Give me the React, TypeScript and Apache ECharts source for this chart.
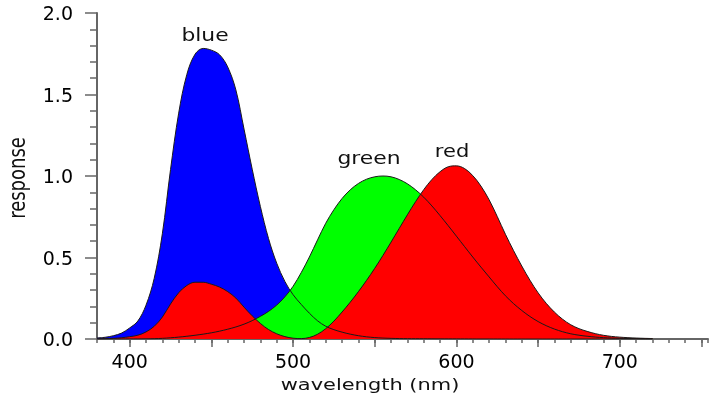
import React, { useEffect, useRef } from "react";
import * as echarts from "echarts";

const wavelengths = [
  380, 385, 390, 395, 400, 405, 410, 415, 420, 425, 430, 435, 440, 445, 450, 455, 460, 465, 470, 475,
  480, 485, 490, 495, 500, 505, 510, 515, 520, 525, 530, 535, 540, 545, 550, 555, 560, 565, 570, 575,
  580, 585, 590, 595, 600, 605, 610, 615, 620, 625, 630, 635, 640, 645, 650, 655, 660, 665, 670, 675,
  680, 685, 690, 695, 700, 705, 710, 715, 720,
];

const blueResponse = [
  0.0065, 0.0106, 0.0201, 0.0362, 0.0679, 0.1102, 0.2074, 0.3713, 0.6456, 1.0391, 1.3856, 1.623, 1.7471, 1.7826, 1.7721, 1.7441, 1.6692, 1.5281, 1.2876, 1.0419,
  0.813, 0.6162, 0.4652, 0.3533, 0.272, 0.2123, 0.1582, 0.1117, 0.0782, 0.0573, 0.0422, 0.0298, 0.0203, 0.0134, 0.0087, 0.0057, 0.0039, 0.0027, 0.0021, 0.0018,
  0.0017, 0.0014, 0.0011, 0.001, 0.0008, 0.0006, 0.0003, 0.0002, 0.0002, 0.0001, 0, 0, 0, 0, 0, 0, 0, 0, 0, 0,
  0, 0, 0, 0, 0, 0, 0, 0, 0,
];

const greenResponse = [
  0.0, 0.0001, 0.0001, 0.0002, 0.0004, 0.0006, 0.0012, 0.0022, 0.004, 0.0073, 0.0116, 0.0168, 0.023, 0.0298, 0.038, 0.048, 0.06, 0.0739, 0.091, 0.1126,
  0.139, 0.1693, 0.208, 0.2586, 0.323, 0.4073, 0.503, 0.6082, 0.71, 0.7932, 0.862, 0.9149, 0.954, 0.9803, 0.995, 1.0, 0.995, 0.9786, 0.952, 0.9154,
  0.87, 0.8163, 0.757, 0.6949, 0.631, 0.5668, 0.503, 0.4412, 0.381, 0.321, 0.265, 0.217, 0.175, 0.1382, 0.107, 0.0816, 0.061, 0.0446, 0.032, 0.0232,
  0.017, 0.0119, 0.0082, 0.0057, 0.0041, 0.0029, 0.0021, 0.0015, 0.001,
];

const redResponse = [
  0.0014, 0.0022, 0.0042, 0.0077, 0.0143, 0.0232, 0.0435, 0.0776, 0.1344, 0.2148, 0.2839, 0.3285, 0.3483, 0.3481, 0.3362, 0.3187, 0.2908, 0.2511, 0.1954, 0.1421,
  0.0956, 0.058, 0.032, 0.0147, 0.0049, 0.0024, 0.0093, 0.0291, 0.0633, 0.1096, 0.1655, 0.2257, 0.2904, 0.3597, 0.4334, 0.5121, 0.5945, 0.6784, 0.7621, 0.8425,
  0.9163, 0.9786, 1.0263, 1.0567, 1.0622, 1.0456, 1.0026, 0.9384, 0.8544, 0.7514, 0.6424, 0.5419, 0.4479, 0.3608, 0.2835, 0.2187, 0.1649, 0.1212, 0.0874, 0.0636,
  0.0468, 0.0329, 0.0227, 0.0158, 0.0114, 0.0081, 0.0058, 0.0041, 0.0029,
];

const xMajorTicks = [400, 450, 500, 550, 600, 650, 700, 750];
const xTickLabels = [400, 500, 600, 700];
const curveNames = ["blue", "green", "red"];
const curveColors = ["#0000ff", "#00ff00", "#ff0000"];
const xAxisTitle = "wavelength (nm)";
const yAxisTitle = "response";

export default function App() {
  const ref = useRef<HTMLDivElement>(null);

  useEffect(() => {
    if (!ref.current) return;
    const chart = echarts.init(ref.current, null, { renderer: "svg" });
    const font = "DejaVu Sans";
    const axisColor = "#666";
    const seriesValues = [blueResponse, greenResponse, redResponse];
    const pairs = (vals: number[]) => wavelengths.map((w, i) => [w, vals[i]]);
    const smooth = 0.35;

    const areaSeries = seriesValues.map((vals, i) => ({
      name: curveNames[i] + "-fill",
      type: "line",
      xAxisIndex: 0,
      data: pairs(vals),
      symbol: "none",
      smooth,
      silent: true,
      z: 2 + i * 0.1,
      color: curveColors[i],
      lineStyle: { width: 0 },
      areaStyle: { color: curveColors[i], opacity: 1 },
    }));
    const lineSeries = seriesValues.map((vals, i) => ({
      name: curveNames[i],
      type: "line",
      xAxisIndex: 0,
      data: pairs(vals),
      symbol: "none",
      smooth,
      silent: true,
      z: 4,
      lineStyle: { color: "#1a1a1a", width: 1 },
    }));

    const textStyle = (text: string, size: number) => ({
      text,
      fill: "#111",
      font: `${size}px "${font}"`,
      align: "center",
      verticalAlign: "middle",
    });

    chart.setOption({
      animation: false,
      grid: { left: 97, top: 13, width: 611, height: 326 },
      xAxis: [
        {
          type: "value",
          min: 380,
          max: 754,
          interval: 10,
          position: "bottom",
          axisLine: { show: true, lineStyle: { color: axisColor, width: 2 } },
          axisTick: { show: true, length: 4, lineStyle: { color: axisColor, width: 1.5 } },
          axisLabel: { show: false },
          splitLine: { show: false },
        },
        {
          type: "value",
          min: 380,
          max: 754,
          position: "bottom",
          axisLine: { show: false },
          axisTick: { show: true, customValues: xMajorTicks, length: 8, lineStyle: { color: axisColor, width: 1.5 } },
          axisLabel: {
            show: true,
            customValues: xTickLabels,
            fontSize: 19,
            fontFamily: font,
            color: "#000",
            margin: 12,
          },
          splitLine: { show: false },
        },
      ],
      yAxis: {
        type: "value",
        min: 0,
        max: 2,
        interval: 0.5,
        axisLine: { show: true, lineStyle: { color: axisColor, width: 2 } },
        axisTick: { show: true, length: 12, lineStyle: { color: axisColor, width: 1.5 } },
        minorTick: { show: true, splitNumber: 5, length: 7, lineStyle: { color: axisColor, width: 1.5 } },
        axisLabel: {
          formatter: (v: number) => v.toFixed(1),
          fontSize: 19,
          fontFamily: font,
          color: "#000",
          margin: 24,
        },
        splitLine: { show: false },
        minorSplitLine: { show: false },
      },
      series: [...areaSeries, ...lineSeries],
      graphic: [
        { type: "text", x: 205, y: 35, scaleX: 1.25, style: textStyle(curveNames[0], 17.5), z: 10 },
        { type: "text", x: 369, y: 158, scaleX: 1.25, style: textStyle(curveNames[1], 17.5), z: 10 },
        { type: "text", x: 452, y: 151, scaleX: 1.2, style: textStyle(curveNames[2], 17.5), z: 10 },
        { type: "text", x: 370, y: 384, scaleX: 1.27, style: textStyle(xAxisTitle, 16.5), z: 10 },
        { type: "text", x: 17, y: 178, rotation: Math.PI / 2, scaleY: 1.3, style: textStyle(yAxisTitle, 18), z: 10 },
      ],
    });

    return () => chart.dispose();
  }, []);

  return <div ref={ref} style={{ position: "fixed", left: 0, top: 0, width: 709, height: 399 }} />;
}
